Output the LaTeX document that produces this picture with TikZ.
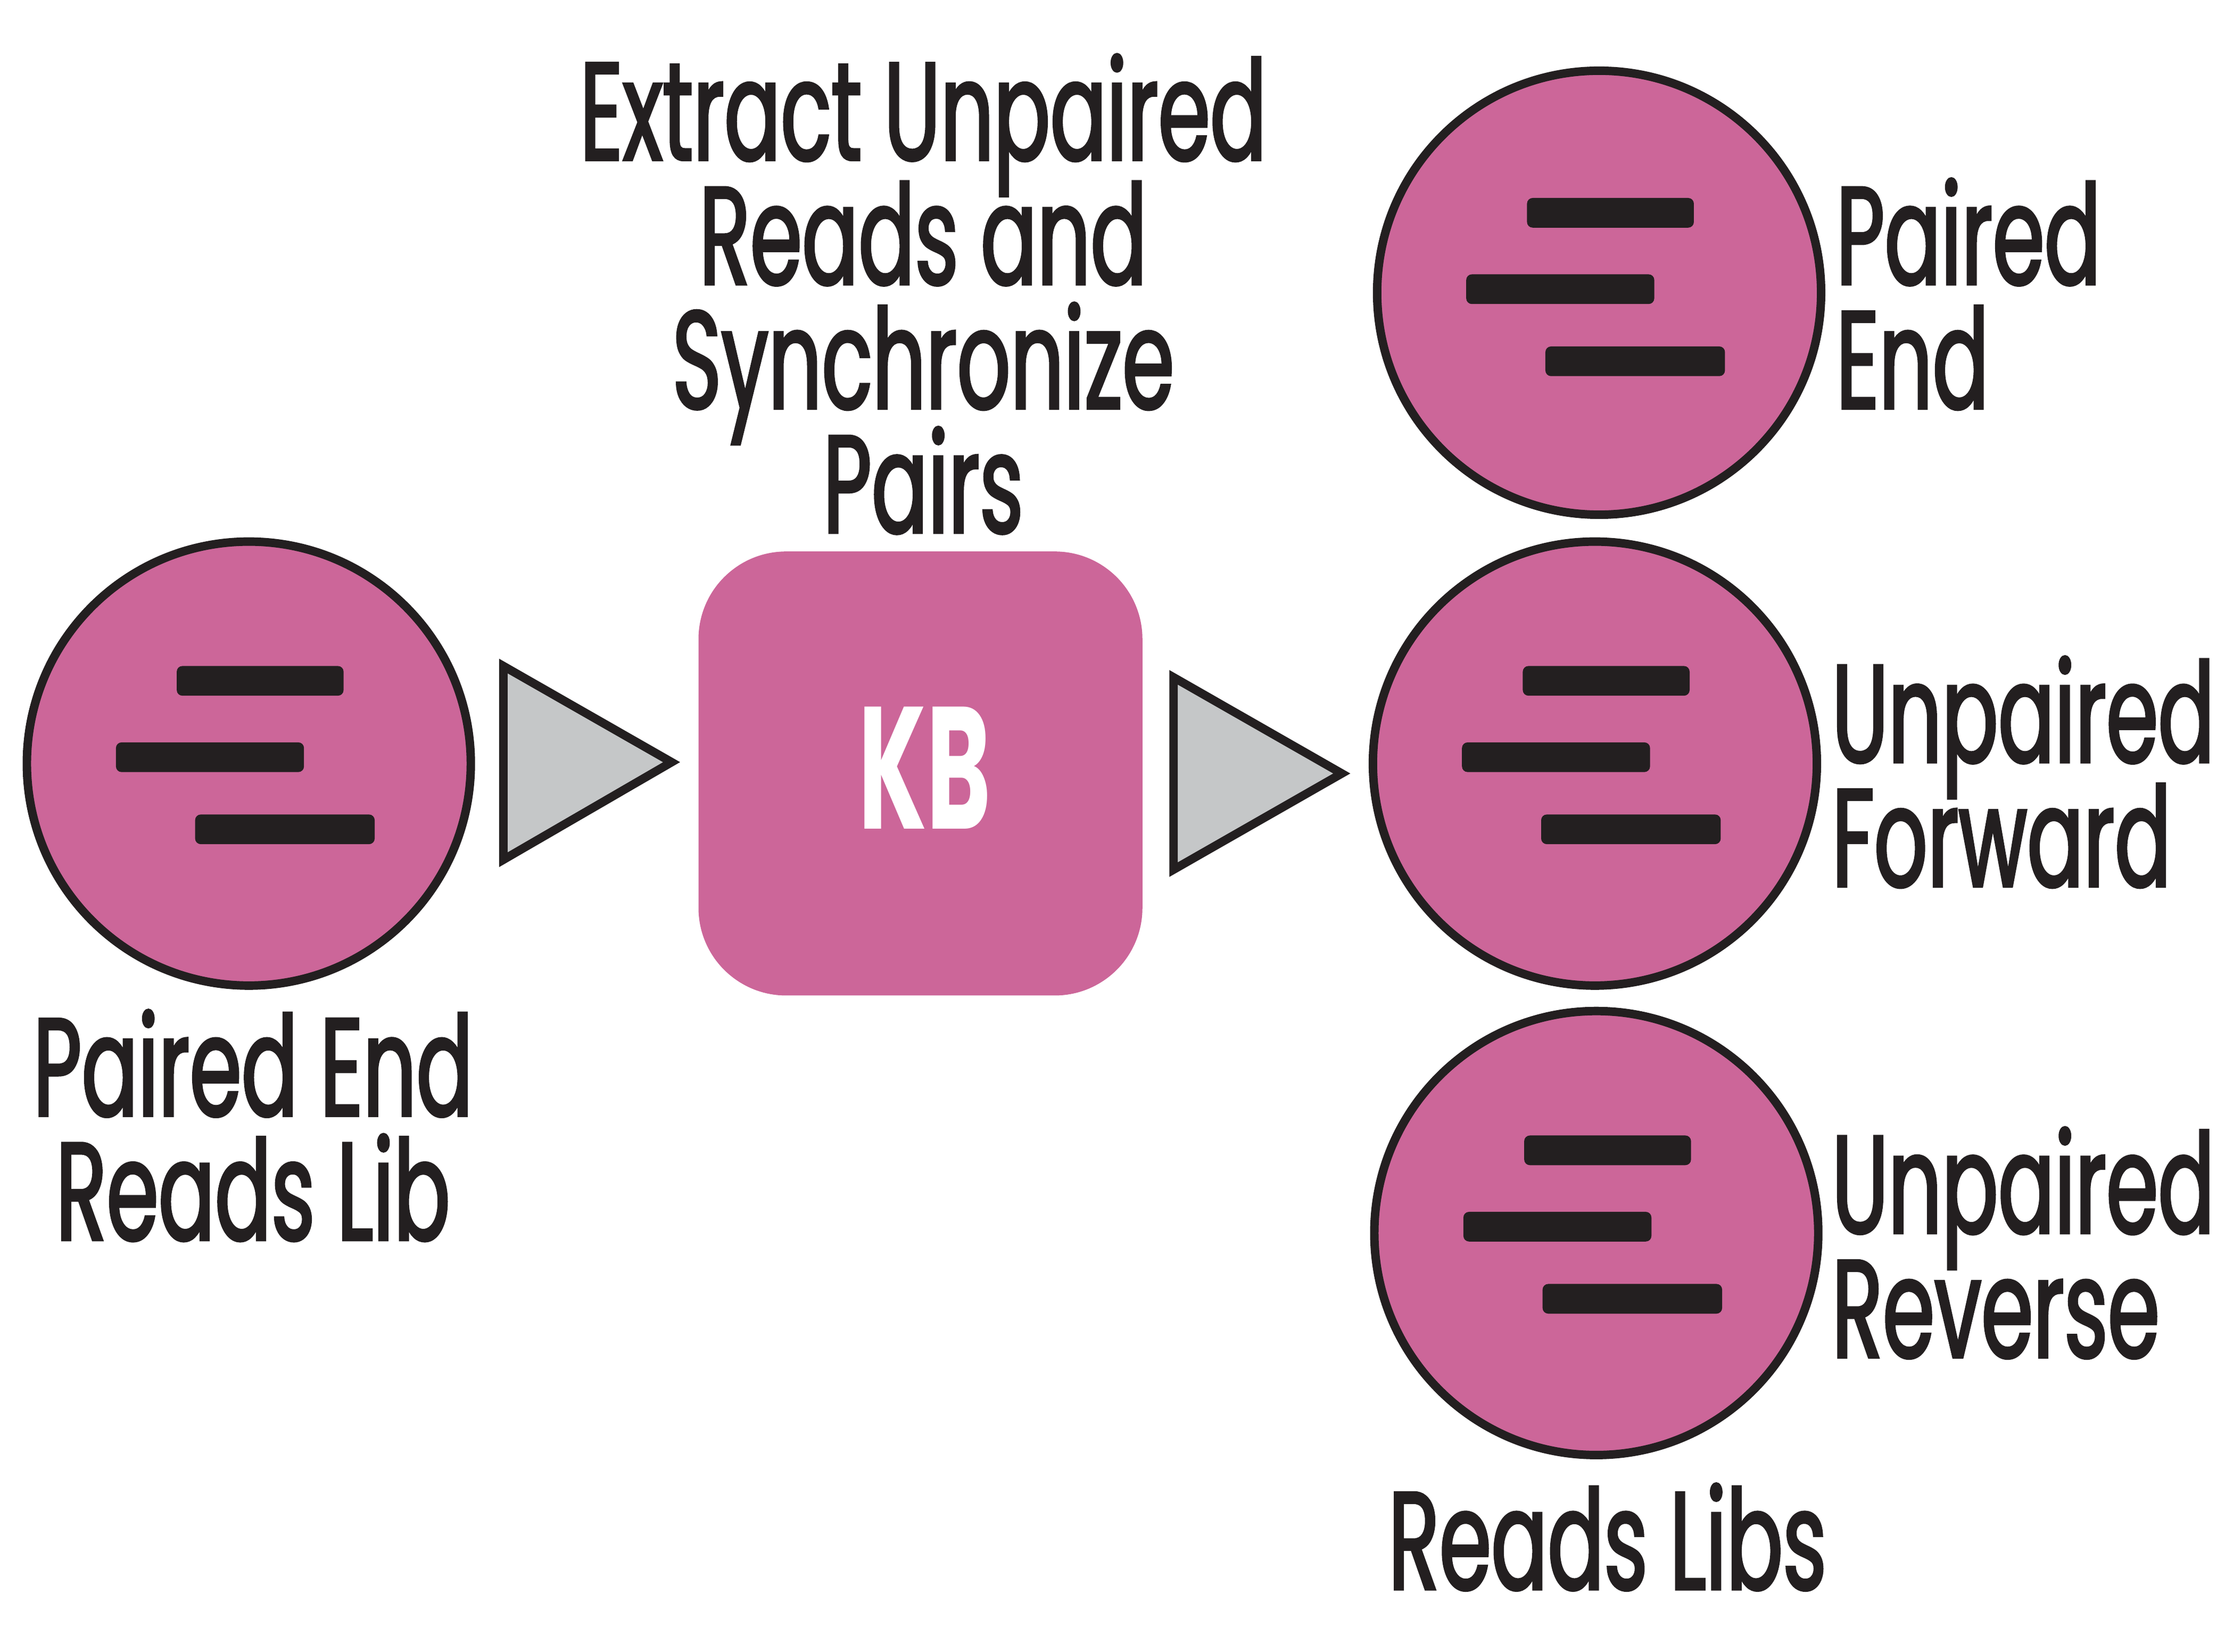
\documentclass[tikz,border=0pt]{standalone}
\usepackage{fontspec}
\usepackage{tikz}
\usetikzlibrary{positioning}
\newfontfamily\labelfont[FakeStretch=0.6,WordSpace=1.0,FakeBold=1.8]{Poppins}
\newfontfamily\kbfont[FakeStretch=0.56]{Poppins Bold}
\newcommand{\captionfont}{\labelfont\fontsize{28}{25}\selectfont\lineskiplimit=-20pt\relax}
\definecolor{libpink}{RGB}{204,102,153}
\definecolor{inkblack}{RGB}{35,31,32}
\definecolor{tipgrey}{RGB}{197,199,200}
\tikzset{
  reads/.style={circle, draw=inkblack, fill=libpink, line width=0.6mm, minimum size=31.4mm, inner sep=0pt},
  kbbox/.style={rectangle, rounded corners=6.2mm, fill=libpink, minimum size=31.4mm, inner sep=0pt},
  kbtext/.style={text=white, inner sep=0pt, font=\kbfont\fontsize{35}{35}\selectfont},
  flow/.style={draw=inkblack, fill=tipgrey, line width=0.6mm, line join=miter},
  readbar/.style={fill=inkblack, rounded corners=0.4mm},
  caption/.style={font=\captionfont, text=inkblack, align=center, inner sep=0pt}
}
\begin{document}
\begin{tikzpicture}[x=0.1mm, y=-0.1mm]
  \useasboundingbox (0,0) rectangle (1568,1168);
  % input library
  \node [reads] (Input) at (176,540) {};
  \node [caption] (InputText) at (179,796) {Paired End\\Reads Lib};
  % first arrow
  \draw [flow] (356,471) -- (475,539) -- (356,608) -- cycle;
  % kbase step
  \node [kbbox] (Step) at (651,547) {};
  \node [kbtext] (StepKB) at (654,543) {KB};
  \node [caption] (StepText) at (653,208) {Extract Unpaired\\Reads and\\Synchronize\\Pairs};
  % second arrow
  \draw [flow] (830,479) -- (949,547) -- (830,615) -- cycle;
  % outputs
  \node [reads] (Paired) at (1131,207) {};
  \node [reads] (Forward) at (1128,540) {};
  \node [reads] (Reverse) at (1129,872) {};
  \foreach \name/\dy in {Input/0, Paired/2, Forward/0, Reverse/0} {
    \fill [readbar] ([shift={(-51,-69+\dy)}]\name.center) rectangle ++(118,21);
    \fill [readbar] ([shift={(-94,-15+\dy)}]\name.center) rectangle ++(133,21);
    \fill [readbar] ([shift={(-38,36+\dy)}]\name.center) rectangle ++(127,21);
  }
  \node [caption, anchor=west, align=left] (PairedText) at (1298,208) {Paired\\End};
  \node [caption, anchor=west, align=left] (ForwardText) at (1295,546) {Unpaired\\Forward};
  \node [caption, anchor=west, align=left] (ReverseText) at (1295,879) {Unpaired\\Reverse};
  \node [caption] (LibsText) at (1137,1087) {Reads Libs};
\end{tikzpicture}
\end{document}
